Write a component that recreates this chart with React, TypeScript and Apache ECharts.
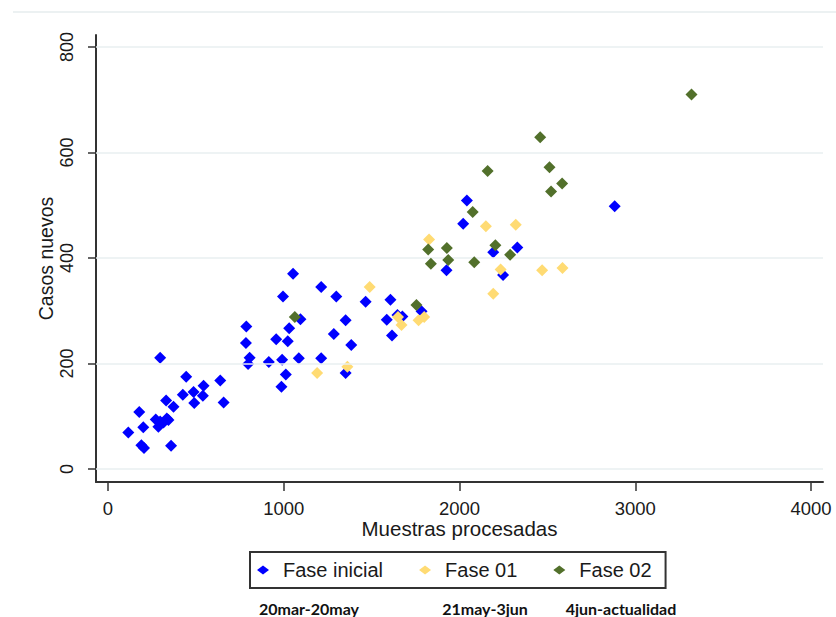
import React, { useEffect, useRef } from "react";
import * as echarts from "echarts";

// ---- data ----
const seriesNames = ["Fase inicial", "Fase 01", "Fase 02"];
const seriesColors = ["#0000ff", "#ffdb73", "#52702b"];

const faseInicial: [number, number][] = [
  [116, 69], [178, 108], [201, 79], [190, 45], [205, 40], [297, 211], [359, 44], [331, 130], [373, 118],
  [272, 94], [297, 90], [335, 96], [287, 80], [316, 88], [344, 93],
  [445, 175], [426, 141], [487, 146], [540, 139], [544, 158], [491, 125],
  [639, 168], [658, 126], [787, 270], [785, 239], [806, 211], [797, 199], [915, 203], [957, 246],
  [991, 207], [996, 327], [1053, 370], [1031, 267], [1023, 242], [1012, 179], [987, 156], [1086, 210], [1095, 284],
  [1213, 345], [1213, 210], [1299, 327], [1285, 256], [1352, 282], [1384, 235], [1352, 182],
  [1466, 317], [1607, 321], [1586, 283], [1616, 253], [1647, 292], [1675, 289], [1784, 299], [1926, 377],
  [2042, 509], [2021, 465], [2192, 411], [2329, 420], [2248, 368], [2883, 498],
];

const fase01: [number, number][] = [
  [1190, 182], [1362, 194], [1489, 345], [1650, 288], [1670, 273], [1767, 282], [1799, 288],
  [1827, 435], [2150, 460], [2320, 463], [2234, 378], [2192, 332], [2470, 377], [2586, 381],
];

const fase02: [number, number][] = [
  [1063, 288], [1755, 311], [1822, 416], [1928, 419], [1837, 389], [1936, 396], [2084, 392],
  [2075, 487], [2160, 565], [2204, 424], [2288, 406], [2459, 629], [2512, 572], [2521, 526],
  [2584, 541], [3320, 710],
];

const xTicks = [0, 1000, 2000, 3000, 4000];
const yTicks = [0, 200, 400, 600, 800];
const periodLabels = ["20mar-20may", "21may-3jun", "4jun-actualidad"];

const FONT = "Liberation Sans";

export default function App() {
  const ref = useRef<HTMLDivElement>(null);

  useEffect(() => {
    if (!ref.current) return;
    const chart = echarts.init(ref.current, null, { renderer: "svg" });
    const allData = [faseInicial, fase01, fase02];

    const option: any = {
      animation: false,
      backgroundColor: "#ffffff",
      grid: { left: 96, right: 13, top: 35, bottom: 135 },
      xAxis: {
        type: "value",
        min: -68,
        max: 4068,
        name: "Muestras procesadas",
        nameLocation: "middle",
        nameGap: 36,
        nameMoveOverlap: false,
        nameTextStyle: { fontSize: 20.5, color: "#1a1a1a", fontFamily: FONT },
        axisLine: { show: true, onZero: false, lineStyle: { color: "#333", width: 2 } },
        axisTick: { show: true, customValues: xTicks, length: 9, lineStyle: { color: "#333", width: 1.5 } },
        axisLabel: {
          customValues: xTicks,
          formatter: (v: number) => String(v),
          fontSize: 18.5,
          color: "#1a1a1a",
          fontFamily: FONT,
          margin: 17,
        },
        splitLine: { show: false },
      },
      yAxis: {
        type: "value",
        min: -24.6,
        max: 822.7,
        name: "Casos nuevos",
        nameLocation: "middle",
        nameGap: 40,
        nameMoveOverlap: false,
        nameRotate: 90,
        nameTextStyle: { fontSize: 19.5, color: "#1a1a1a", fontFamily: FONT },
        axisLine: { show: true, onZero: false, lineStyle: { color: "#333", width: 2 } },
        axisTick: { show: true, customValues: yTicks, length: 8, lineStyle: { color: "#333", width: 1.5 } },
        axisLabel: {
          customValues: yTicks,
          formatter: (v: number) => String(v),
          rotate: 90,
          fontSize: 18,
          color: "#1a1a1a",
          fontFamily: FONT,
          margin: 20,
        },
        splitLine: { show: false },
      },
      legend: {
        data: seriesNames.map((n) => ({ name: n, icon: "diamond" })),
        left: 250,
        top: 552,
        orient: "horizontal",
        itemWidth: 12,
        itemHeight: 9,
        itemGap: 36,
        padding: [8, 14, 8, 7],
        borderColor: "#333",
        borderWidth: 2,
        backgroundColor: "#fff",
        textStyle: { fontSize: 20, color: "#1a1a1a", fontFamily: FONT, padding: [0, 0, 0, 9] },
      },
      graphic: [
        {
          type: "line",
          shape: { x1: 13, y1: 12, x2: 836, y2: 12 },
          style: { stroke: "#e6ecee", lineWidth: 1.5 },
          silent: true,
        },
        ...periodLabels.map((t, i) => ({
          type: "text",
          x: [309, 485, 621][i],
          y: 608,
          style: {
            text: t,
            fontFamily: "Lato",
            fontWeight: "bold",
            fontSize: 16,
            fill: "#111",
            textAlign: "center",
            textVerticalAlign: "middle",
          },
          silent: true,
        })),
      ],
      series: [
        {
          type: "scatter",
          name: "__grid",
          data: [],
          z: 1,
          silent: true,
          markLine: {
            silent: true,
            symbol: "none",
            label: { show: false },
            lineStyle: { color: "#e8eff1", width: 1.5, type: "solid" },
            data: yTicks.map((v) => ({ yAxis: v })),
          },
        },
        ...seriesNames.map((n, i) => ({
          type: "scatter",
          name: n,
          data: allData[i],
          symbol: "diamond",
          symbolSize: 12,
          z: 3 + i,
          itemStyle: { color: seriesColors[i], opacity: 1 },
        })),
      ],
    };
    chart.setOption(option);
    return () => chart.dispose();
  }, []);

  return (
    <div
      ref={ref}
      style={{ width: 836, height: 617, position: "fixed", left: 0, top: 0 }}
    />
  );
}
